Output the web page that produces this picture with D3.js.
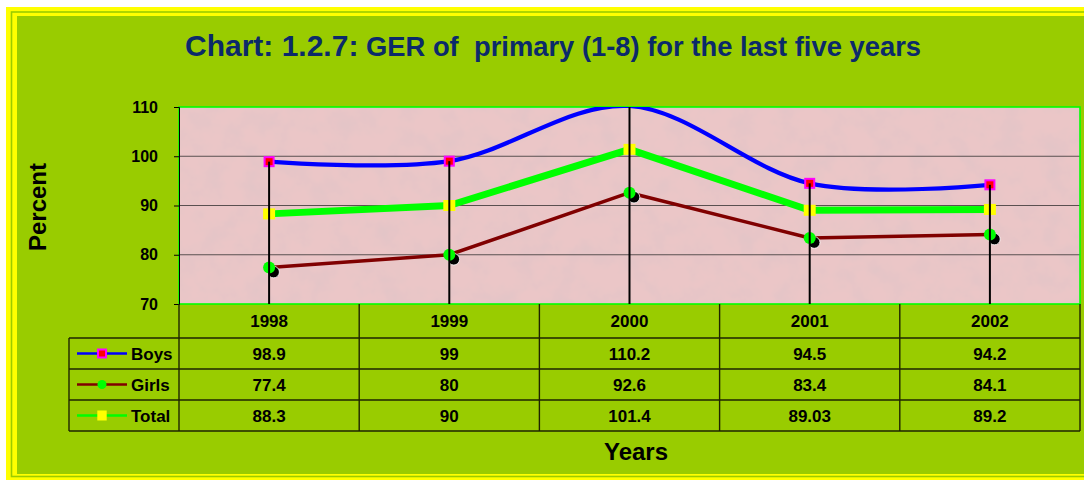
<!DOCTYPE html>
<html>
<head>
<meta charset="utf-8">
<script src="https://cdn.jsdelivr.net/npm/d3@7"></script>
<style>
  html, body { margin: 0; padding: 0; background: #ffffff; }
  svg { display: block; }
  text { font-family: "Liberation Sans", Arial, sans-serif; font-weight: bold; }
</style>
</head>
<body>
<svg id="chart" width="1084" height="481"></svg>
<script>
// ---- Data ----
const years = ["1998", "1999", "2000", "2001", "2002"];
const boys  = [98.9, 99, 110.2, 94.5, 94.2];
const girls = [77.4, 80, 92.6, 83.4, 84.1];
const total = [88.3, 90, 101.4, 89.03, 89.2];
const boysLabels  = ["98.9", "99", "110.2", "94.5", "94.2"];
const girlsLabels = ["77.4", "80", "92.6", "83.4", "84.1"];
const totalLabels = ["88.3", "90", "101.4", "89.03", "89.2"];
const yTicks = [70, 80, 90, 100, 110];
const seriesNames = ["Boys", "Girls", "Total"];

const svg = d3.select("#chart");

// ---- Outer frame ----
svg.append("rect").attr("x", 6).attr("y", 7).attr("width", 1100).attr("height", 473).attr("fill", "#ffff00");
svg.append("rect").attr("x", 11.5).attr("y", 12).attr("width", 1100).attr("height", 464.5)
  .attr("fill", "none").attr("stroke", "#99cc00").attr("stroke-width", 1.6);
svg.append("rect").attr("x", 17).attr("y", 16).attr("width", 1100).attr("height", 458).attr("fill", "#99cc00");

// ---- Title ----
const title = svg.append("text").attr("x", 185).attr("y", 56).attr("fill", "#0b2a6a");
title.append("tspan").attr("font-size", 30).text("Chart: 1.2.7:");
title.append("tspan").attr("x", 366).attr("font-size", 27.3).attr("xml:space", "preserve")
  .style("white-space", "pre")
  .text("GER of  primary (1-8) for the last five years")
  .attr("textLength", 555).attr("lengthAdjust", "spacingAndGlyphs");

// ---- Plot area ----
const L = 179, R = 1080, T = 107, B = 304;
const x = d3.scaleBand().domain(years).range([L, R]).padding(0);
const y = d3.scaleLinear().domain([70, 110]).range([B, T]);
const cx = d => x(d) + x.bandwidth() / 2;
const inRange = v => v >= 70 && v <= 110;

const defs = svg.append("defs");
const filt = defs.append("filter").attr("id", "tex").attr("x", 0).attr("y", 0).attr("width", 1).attr("height", 1);
filt.append("feTurbulence").attr("type", "fractalNoise").attr("baseFrequency", 0.045).attr("numOctaves", 4).attr("seed", 7);
filt.append("feColorMatrix").attr("type", "matrix")
  .attr("values", "0 0 0 0 0.72  0 0 0 0 0.55  0 0 0 0 0.57  1.1 0 0 0 -0.42");
defs.append("clipPath").attr("id", "plotClip").append("rect")
  .attr("x", L).attr("y", T).attr("width", R - L).attr("height", B - T);

svg.append("rect").attr("x", L).attr("y", T).attr("width", R - L).attr("height", B - T).attr("fill", "#ebc6c7");
svg.append("rect").attr("x", L).attr("y", T).attr("width", R - L).attr("height", B - T).attr("filter", "url(#tex)");

// gridlines
svg.append("g").selectAll("line").data(yTicks.filter(t => t > 70 && t < 110)).join("line")
  .attr("x1", L).attr("x2", R).attr("y1", d => y(d)).attr("y2", d => y(d))
  .attr("stroke", "#5a5050").attr("stroke-width", 1);

// plot border
svg.append("rect").attr("x", L).attr("y", T).attr("width", R - L).attr("height", B - T)
  .attr("fill", "none").attr("stroke", "#00ff00").attr("stroke-width", 1.6);

// y axis
const yAxis = svg.append("g").attr("transform", `translate(${L},0)`)
  .call(d3.axisLeft(y).tickValues(yTicks).tickSize(5).tickPadding(16).tickFormat(d3.format("d")));
yAxis.select(".domain").attr("stroke", "#000").attr("stroke-width", 1);
yAxis.selectAll(".tick line").attr("stroke", "#000");
yAxis.selectAll("text").attr("font-size", 16).attr("fill", "#000")
  .attr("font-family", "Liberation Sans, Arial, sans-serif").attr("font-weight", "bold");

svg.append("text").attr("transform", "translate(46,207) rotate(-90)").attr("text-anchor", "middle")
  .attr("font-size", 24).attr("fill", "#000").text("Percent");

// ---- Series ----
const plot = svg.append("g").attr("clip-path", "url(#plotClip)");
const ptsOf = arr => years.map((yr, i) => [cx(yr), y(arr[i]), arr[i]]);

plot.append("path").attr("d", d3.line().curve(d3.curveLinear)(ptsOf(girls)))
  .attr("fill", "none").attr("stroke", "#800000").attr("stroke-width", 3.5).attr("stroke-linejoin", "round");
plot.append("path").attr("d", d3.line().curve(d3.curveLinear)(ptsOf(total)))
  .attr("fill", "none").attr("stroke", "#00ff00").attr("stroke-width", 7).attr("stroke-linejoin", "round");
plot.append("path").attr("d", d3.line().curve(d3.curveCardinal.tension(0))(ptsOf(boys)))
  .attr("fill", "none").attr("stroke", "#0000ff").attr("stroke-width", 4.2);

// girls markers with shadow
const gPts = ptsOf(girls).filter(d => inRange(d[2]));
plot.append("g").selectAll("circle").data(gPts).join("circle")
  .attr("cx", d => d[0] + 4.5).attr("cy", d => d[1] + 4.5).attr("r", 5.8)
  .attr("fill", "#000").attr("stroke", "#fff").attr("stroke-width", 0.8);
plot.append("g").selectAll("circle").data(gPts).join("circle")
  .attr("cx", d => d[0]).attr("cy", d => d[1]).attr("r", 6).attr("fill", "#00ff00");
// total markers
plot.append("g").selectAll("rect").data(ptsOf(total).filter(d => inRange(d[2]))).join("rect")
  .attr("x", d => d[0] - 6).attr("y", d => d[1] - 5.5).attr("width", 12).attr("height", 11).attr("fill", "#ffff00");
// boys markers (values above the axis maximum are not drawn)
plot.append("g").selectAll("rect").data(ptsOf(boys).filter(d => inRange(d[2]))).join("rect")
  .attr("x", d => d[0] - 4.5).attr("y", d => d[1] - 4.5).attr("width", 9).attr("height", 9)
  .attr("fill", "#ff0000").attr("stroke", "#ff00ff").attr("stroke-width", 2);

// drop lines
plot.append("g").selectAll("line").data(years).join("line")
  .attr("x1", d => cx(d)).attr("x2", d => cx(d))
  .attr("y1", (d, i) => y(Math.max(boys[i], girls[i], total[i]))).attr("y2", B)
  .attr("stroke", "#000").attr("stroke-width", 2);

// ---- Data table ----
const rowTop = [304, 338, 369, 400, 431];
const legL = 69;
const tbl = svg.append("g").attr("stroke", "#1e2400").attr("stroke-width", 1.4);
[338, 369, 400, 431].forEach(yy => {
  tbl.append("line").attr("x1", legL).attr("x2", R).attr("y1", yy).attr("y2", yy);
});
const bounds = years.map(yr => x(yr)).concat([R]);
tbl.selectAll("line.v").data(bounds).join("line").attr("class", "v")
  .attr("x1", d => d).attr("x2", d => d).attr("y1", B).attr("y2", 431);
tbl.append("line").attr("x1", legL).attr("x2", legL).attr("y1", 338).attr("y2", 431);

svg.append("g").selectAll("text").data(years).join("text")
  .attr("x", d => cx(d)).attr("y", (rowTop[0] + rowTop[1]) / 2).attr("dy", "0.36em")
  .attr("text-anchor", "middle").attr("font-size", 17).attr("fill", "#000").text(d => d);

const rowsLabels = [boysLabels, girlsLabels, totalLabels];
rowsLabels.forEach((labels, r) => {
  svg.append("g").selectAll("text").data(labels).join("text")
    .attr("x", (d, i) => cx(years[i])).attr("y", (rowTop[r + 1] + rowTop[r + 2]) / 2).attr("dy", "0.36em")
    .attr("text-anchor", "middle").attr("font-size", 17).attr("fill", "#000").text(d => d);
});

// legend keys
const keyColors = ["#0000ff", "#800000", "#00ff00"];
seriesNames.forEach((name, r) => {
  const cy = (rowTop[r + 1] + rowTop[r + 2]) / 2;
  const g = svg.append("g");
  g.append("line").attr("x1", 77).attr("x2", 127).attr("y1", cy).attr("y2", cy)
    .attr("stroke", keyColors[r]).attr("stroke-width", 2.5);
  if (r === 0) {
    g.append("rect").attr("x", 102 - 4).attr("y", cy - 4).attr("width", 8).attr("height", 8)
      .attr("fill", "#ff0000").attr("stroke", "#ff00ff").attr("stroke-width", 2);
  } else if (r === 1) {
    g.append("circle").attr("cx", 102).attr("cy", cy).attr("r", 4.5).attr("fill", "#00ff00");
  } else {
    g.append("rect").attr("x", 102 - 4.7).attr("y", cy - 5).attr("width", 9.4).attr("height", 10).attr("fill", "#ffff00");
  }
  g.append("text").attr("x", 131).attr("y", cy).attr("dy", "0.36em").attr("font-size", 17)
    .attr("fill", "#000").text(name);
});

// x axis title
svg.append("text").attr("x", 636).attr("y", 460).attr("text-anchor", "middle")
  .attr("font-size", 24).attr("fill", "#000").text("Years");
</script>
</body>
</html>
